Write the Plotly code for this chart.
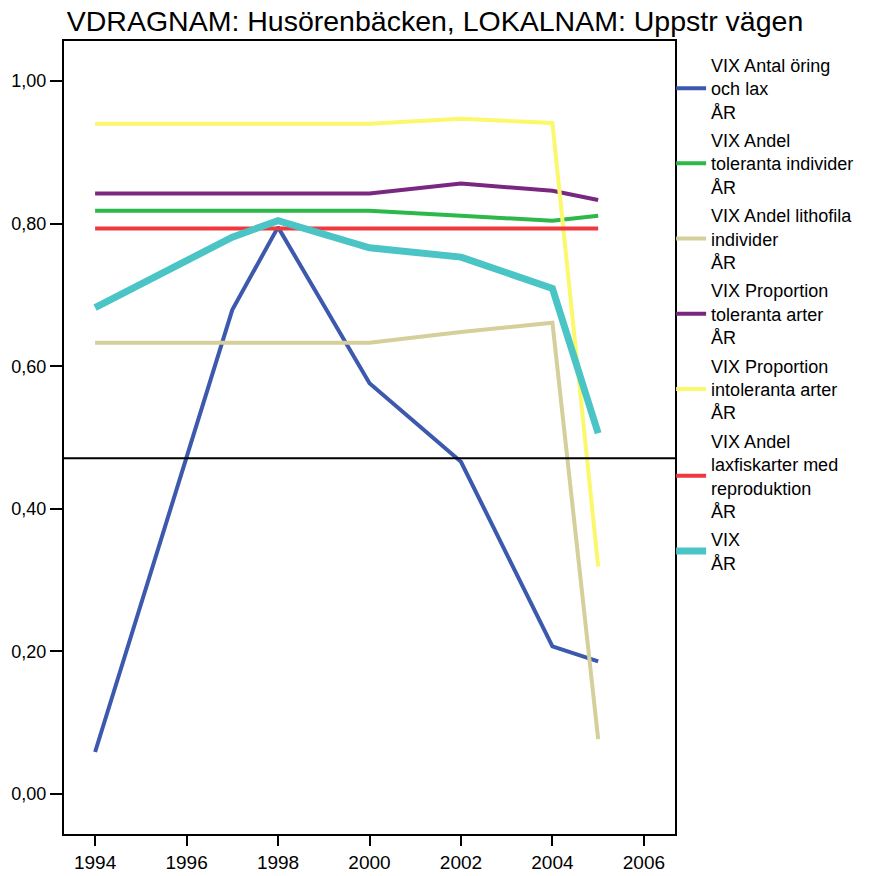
import plotly.graph_objects as go

# Years sampled
years = [1994, 1997, 1998, 2000, 2002, 2004, 2005]

# Index values per series
antal_oring_lax = [0.059, 0.679, 0.795, 0.576, 0.466, 0.207, 0.186]
andel_toleranta_ind = [0.818, 0.818, 0.818, 0.818, 0.811, 0.804, 0.811]
andel_lithofila = [0.633, 0.633, 0.633, 0.633, 0.648, 0.661, 0.077]
prop_toleranta_arter = [0.842, 0.842, 0.842, 0.842, 0.856, 0.846, 0.833]
prop_intoleranta_arter = [0.940, 0.940, 0.940, 0.940, 0.947, 0.941, 0.319]
andel_laxfisk_repro = [0.793, 0.793, 0.793, 0.793, 0.793, 0.793, 0.793]
vix = [0.682, 0.781, 0.804, 0.766, 0.753, 0.709, 0.506]

reference_level = 0.471

series = [
    ("VIX Antal öring<br>och lax<br>ÅR", antal_oring_lax, "#3C59AE", 4),
    ("VIX Andel<br>toleranta individer<br>ÅR", andel_toleranta_ind, "#2DB84A", 4),
    ("VIX Andel lithofila<br>individer<br>ÅR", andel_lithofila, "#D4CF9B", 4),
    ("VIX Proportion<br>toleranta arter<br>ÅR", prop_toleranta_arter, "#7A287F", 4),
    ("VIX Proportion<br>intoleranta arter<br>ÅR", prop_intoleranta_arter, "#FBF86B", 4),
    ("VIX Andel<br>laxfiskarter med<br>reproduktion<br>ÅR", andel_laxfisk_repro, "#F0393E", 4),
    ("VIX<br>ÅR", vix, "#4BC4C5", 7),
]

fig = go.Figure()
for i, (name, vals, color, width) in enumerate(series):
    fig.add_trace(go.Scatter(
        x=years, y=vals, name=name, mode="lines", legendgroup=f"g{i}",
        line={"color": color, "width": width},
    ))

fig.add_hline(y=reference_level, line={"color": "black", "width": 2})

fig.update_layout(
    width=870, height=876,
    margin={"l": 64, "r": 194, "t": 41, "b": 42},
    font={"family": "Liberation Sans, Arial, sans-serif", "size": 18, "color": "black"},
    title={"text": "VDRAGNAM: Husörenbäcken, LOKALNAM: Uppstr vägen",
           "x": 0.5, "xanchor": "center", "y": 0.976, "yanchor": "middle",
           "font": {"size": 28.5}},
    separators=", ",
    plot_bgcolor="white", paper_bgcolor="white",
    showlegend=True,
    legend={"x": 0.992, "xanchor": "left", "y": 0.993, "yanchor": "top",
            "font": {"size": 18}, "itemwidth": 30, "tracegroupgap": 2,
            "bgcolor": "rgba(0,0,0,0)"},
)

fig.update_xaxes(
    range=[1993.32, 2006.68], tickvals=[1994, 1996, 1998, 2000, 2002, 2004, 2006],
    showgrid=False, zeroline=False, showline=True, linecolor="black", linewidth=2,
    mirror=True, ticks="outside", ticklen=10, tickwidth=2, tickcolor="black",
    tickfont={"size": 19}, automargin=False,
)
fig.update_yaxes(
    range=[-0.056, 1.056], tickvals=[0, 0.2, 0.4, 0.6, 0.8, 1.0], tickformat=".2f",
    showgrid=False, zeroline=False, showline=True, linecolor="black", linewidth=2,
    mirror=True, ticks="outside", ticklen=12, tickwidth=2, tickcolor="black",
    tickfont={"size": 18}, automargin=False,
)

fig.write_html("out.html", config={"displayModeBar": False},
               post_script="document.body.style.margin='0px';")
